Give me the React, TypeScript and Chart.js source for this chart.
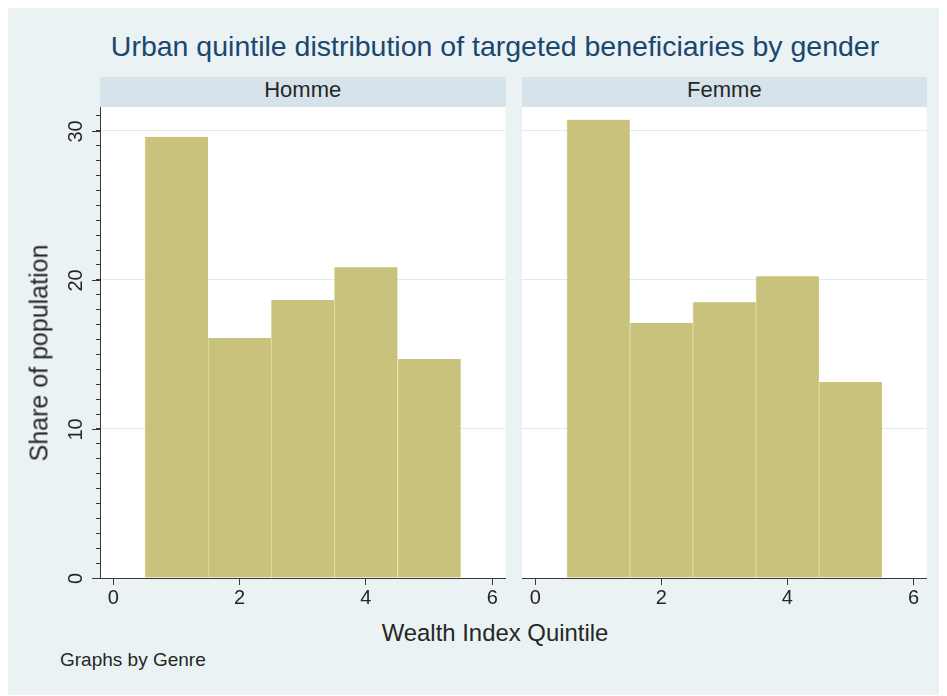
import React, { useEffect, useRef } from "react";
import { Chart, registerables } from "chart.js";
Chart.register(...registerables);

// ---- data ----
const quintiles = [1, 2, 3, 4, 5];
const hommeShare = [29.6, 16.1, 18.65, 20.85, 14.7];
const femmeShare = [30.75, 17.1, 18.5, 20.25, 13.15];
const xTickValues = [0, 2, 4, 6];
const yMajorTicks = [0, 10, 20, 30];
const yMinorStep = 1;
const panelLabels = ["Homme", "Femme"];
const titleText = "Urban quintile distribution of targeted beneficiaries by gender";
const xTitle = "Wealth Index Quintile";
const yTitle = "Share of population";
const noteText = "Graphs by Genre";

// ---- style ----
const FONT = '"Liberation Sans", Arial, Helvetica, sans-serif';
const BG = "rgb(234,242,243)";
const STRIP = "rgb(215,227,234)";
const BAR = "rgb(201,194,124)";
const BAR_EDGE = "rgb(228,222,172)";
const GRID = "#e3eaed";
const AXIS = "#3a3a3a";
const TEXT = "#262626";
const NAVY = "rgb(26,71,111)";

const X_MIN = -0.21;
const X_MAX = 6.21;
const Y_MIN = 0;
const Y_MAX = 31.6;

type PanelProps = {
  values: number[];
  showYAxis: boolean;
  left: number;
  width: number;
  padRight: number;
};

function Panel({ values, showYAxis, left, width, padRight }: PanelProps) {
  const ref = useRef<HTMLCanvasElement>(null);
  useEffect(() => {
    if (!ref.current) return;
    const yAxisWidth = showYAxis ? 92 : 7;
    const whiteArea = {
      id: "whiteArea",
      beforeDraw(chart: any) {
        const ca = chart.chartArea;
        const ctx = chart.ctx;
        ctx.save();
        ctx.fillStyle = "#ffffff";
        ctx.fillRect(ca.left, ca.top, ca.right - ca.left, ca.bottom - ca.top);
        ctx.restore();
      },
    };
    const stataY = {
      id: "stataY",
      afterDraw(chart: any) {
        if (!showYAxis) return;
        const y = chart.scales.y;
        const ctx = chart.ctx;
        const ca = chart.chartArea;
        ctx.save();
        ctx.strokeStyle = AXIS;
        ctx.lineWidth = 1;
        yMajorTicks.forEach((v) => {
          const py = Math.round(y.getPixelForValue(v)) + 0.5;
          ctx.beginPath();
          ctx.moveTo(ca.left - 8, py);
          ctx.lineTo(ca.left, py);
          ctx.stroke();
          ctx.save();
          ctx.translate(ca.left - 18, py);
          ctx.rotate(-Math.PI / 2);
          ctx.font = `20px ${FONT}`;
          ctx.fillStyle = TEXT;
          ctx.textAlign = "center";
          ctx.textBaseline = "alphabetic";
          ctx.fillText(String(v), 0, 0);
          ctx.restore();
        });
        ctx.restore();
      },
    };
    const chart = new Chart(ref.current, {
      type: "bar",
      data: {
        datasets: [
          {
            data: quintiles.map((q, i) => ({ x: q, y: values[i] })),
            backgroundColor: BAR,
            borderColor: BAR_EDGE,
            borderWidth: { left: 1, right: 0, top: 0, bottom: 0 } as any,
            borderSkipped: false,
            barPercentage: 1,
            categoryPercentage: 1,
          },
        ],
      },
      options: {
        responsive: false,
        animation: false,
        events: [],
        layout: { padding: { top: 9, bottom: 10, left: 0, right: padRight } },
        plugins: { legend: { display: false }, tooltip: { enabled: false }, title: { display: false } },
        scales: {
          x: {
            type: "linear",
            min: X_MIN,
            max: X_MAX,
            offset: false,
            afterBuildTicks: (s: any) => {
              s.ticks = xTickValues.map((v) => ({ value: v }));
            },
            afterFit: (s: any) => {
              s.height = 30;
            },
            grid: {
              offset: false,
              drawOnChartArea: false,
              drawTicks: true,
              tickLength: 7,
              tickColor: AXIS,
              tickWidth: 1,
            },
            border: { display: true, color: AXIS, width: 1 },
            ticks: {
              font: { family: FONT, size: 20 },
              color: TEXT,
              padding: 1,
              maxRotation: 0,
              autoSkip: false,
            },
          },
          y: {
            type: "linear",
            min: Y_MIN,
            max: Y_MAX,
            afterBuildTicks: (s: any) => {
              const t: any[] = [];
              for (let v = 0; v <= 31; v += yMinorStep) t.push({ value: v });
              s.ticks = t;
            },
            afterFit: (s: any) => {
              s.width = yAxisWidth;
            },
            grid: {
              color: (c: any) => (c.tick && c.tick.value % 10 === 0 && c.tick.value > 0 ? GRID : "rgba(0,0,0,0)"),
              lineWidth: 1,
              drawTicks: showYAxis,
              tickLength: 4,
              tickColor: AXIS,
            },
            border: { display: showYAxis, color: AXIS, width: 1 },
            ticks: { display: false, autoSkip: false },
          },
        },
      },
      plugins: [whiteArea, stataY],
    } as any);
    return () => chart.destroy();
  }, [values, showYAxis, padRight]);
  return (
    <canvas
      ref={ref}
      width={width}
      height={520}
      style={{ position: "absolute", left, top: 90, width, height: 520, display: "block" }}
    />
  );
}

export default function App() {
  const stripBase: React.CSSProperties = {
    position: "absolute",
    top: 69,
    height: 30,
    background: STRIP,
    textAlign: "center",
    fontFamily: FONT,
    fontSize: 22,
    lineHeight: "25px",
    color: TEXT,
  };
  return (
    <div
      style={{
        position: "relative",
        width: 931,
        height: 687,
        background: BG,
        overflow: "hidden",
      }}
    >
      <style>{"html,body{overflow:hidden}"}</style>
      <div
        style={{
          position: "absolute",
          left: 487,
          top: 23.6,
          transform: "translateX(-50%)",
          whiteSpace: "nowrap",
          fontFamily: FONT,
          fontSize: 28.5,
          lineHeight: "28.5px",
          color: NAVY,
        }}
      >
        {titleText}
      </div>
      <div style={{ ...stripBase, left: 92, width: 405.5 }}>{panelLabels[0]}</div>
      <div style={{ ...stripBase, left: 514, width: 404.7 }}>{panelLabels[1]}</div>
      <Panel values={hommeShare} showYAxis={true} left={0} width={507} padRight={9.5} />
      <Panel values={femmeShare} showYAxis={false} left={507} width={425} padRight={13.3} />
      <div
        style={{
          position: "absolute",
          left: 31.4,
          top: 345,
          transform: "translate(-50%,-50%) rotate(-90deg)",
          whiteSpace: "nowrap",
          fontFamily: FONT,
          fontSize: 25,
          lineHeight: "25px",
          color: TEXT,
        }}
      >
        {yTitle}
      </div>
      <div
        style={{
          position: "absolute",
          left: 487,
          top: 612.5,
          transform: "translateX(-50%)",
          whiteSpace: "nowrap",
          fontFamily: FONT,
          fontSize: 23.9,
          lineHeight: "23.9px",
          color: TEXT,
        }}
      >
        {xTitle}
      </div>
      <div
        style={{
          position: "absolute",
          left: 52,
          top: 641.6,
          whiteSpace: "nowrap",
          fontFamily: FONT,
          fontSize: 19,
          lineHeight: "19px",
          color: TEXT,
        }}
      >
        {noteText}
      </div>
    </div>
  );
}
